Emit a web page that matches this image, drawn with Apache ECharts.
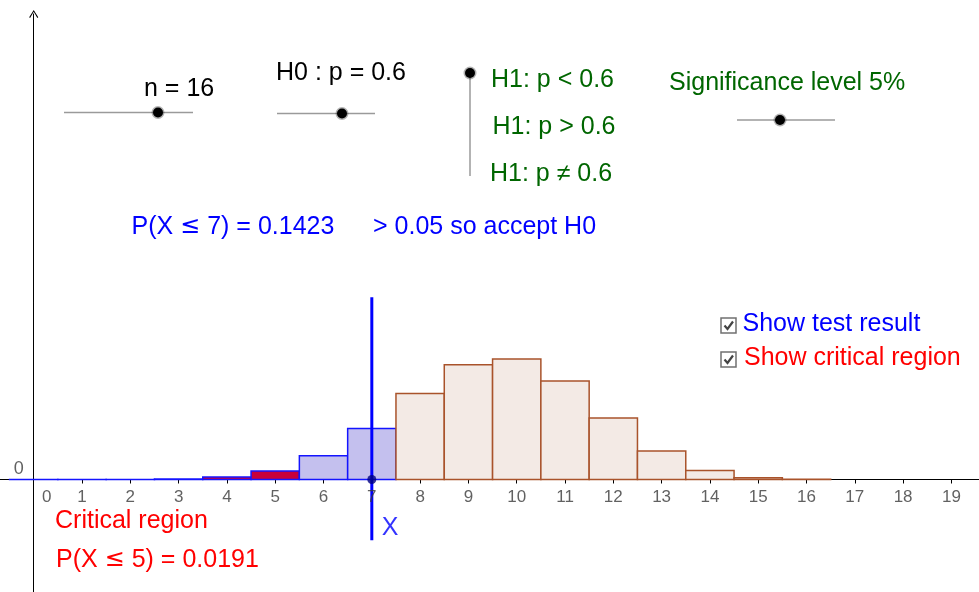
<!DOCTYPE html>
<html><head><meta charset="utf-8">
<script src="https://cdn.jsdelivr.net/npm/echarts@6/dist/echarts.min.js"></script>
<style>html,body{margin:0;padding:0;background:#fff}#c{width:979px;height:592px}</style>
</head><body><div id="c"></div>
<script>
// ---- data ----
const outcomes = [0, 1, 2, 3, 4, 5, 6, 7, 8, 9, 10, 11, 12, 13, 14, 15, 16];
const probabilities = [0.0000, 0.0000, 0.0001, 0.0008, 0.0040, 0.0142, 0.0392, 0.0840, 0.1417, 0.1889, 0.1983, 0.1623, 0.1014, 0.0468, 0.0150, 0.0030, 0.0003];
const tickValues = [1, 2, 3, 4, 5, 6, 7, 8, 9, 10, 11, 12, 13, 14, 15, 16, 17, 18, 19];
const tickLabels = [0, 1, 2, 3, 4, 5, 6, 7, 8, 9, 10, 11, 12, 13, 14, 15, 16, 17, 18, 19];
const yTickLabels = [0];
const criticalMax = 5;
const observedX = 7;
const testLine = [[7, 0.300], [7, -0.100]];
const observedPoint = [[7, 0]];
const texts = {
  n: 'n = 16',
  h0: 'H0 : p = 0.6',
  h1a: 'H1: p < 0.6',
  h1b: 'H1: p > 0.6',
  h1c: 'H1: p \u2260 0.6',
  sig: 'Significance level 5%',
  pObs: ['P(X ', '\u2264', ' 7) = 0.1423'],
  decision: '> 0.05 so accept H0',
  cb1: 'Show test result',
  cb2: 'Show critical region',
  crit: 'Critical region',
  pCrit: ['P(X ', '\u2264', ' 5) = 0.0191'],
  xName: 'X'
};

const FONT = '"Liberation Sans", Arial, sans-serif';
const SYM_FONT = '"DejaVu Sans", "Liberation Sans", sans-serif';
const GREEN = '#006600', BLUE = '#0000FF', RED = '#FF0000';
const LABEL_GREY = '#3a3a3a';
const chart = echarts.init(document.getElementById('c'), null, {renderer: 'canvas'});

function renderBar(params, api) {
  const k = api.value(0), p = api.value(1);
  const tl = api.coord([k - 0.5, p]);
  const br = api.coord([k + 0.5, 0]);
  let fill, stroke;
  if (k <= criticalMax) { fill = '#C8003C'; stroke = '#1414FF'; }
  else if (k <= observedX) { fill = '#C4C0EE'; stroke = '#1414FF'; }
  else { fill = '#F3EAE5'; stroke = '#A9532B'; }
  return {
    type: 'rect',
    shape: {x: tl[0], y: tl[1], width: br[0] - tl[0], height: Math.max(br[1] - tl[1], 0.01)},
    style: {fill: fill, stroke: stroke, lineWidth: 1.5}
  };
}

function txt(x, y, s, color, size) {
  return {type: 'text', x: x, y: y, z: 50,
    style: {text: s, fill: color, font: (size || 25) + 'px ' + FONT, textAlign: 'left', textVerticalAlign: 'middle'}};
}
function symTxt(x, y, parts, color) {
  return {type: 'text', x: x, y: y, z: 50,
    style: {
      text: '{a|' + parts[0] + '}{b|' + parts[1] + '}{a|' + parts[2] + '}',
      textAlign: 'left', textVerticalAlign: 'middle',
      rich: {
        a: {fill: color, fontSize: 25, fontFamily: FONT},
        b: {fill: color, fontSize: 24, fontFamily: SYM_FONT}
      }
    }};
}
function dot(x, y) {
  return [
    {type: 'circle', shape: {cx: x, cy: y, r: 6.5}, style: {fill: 'rgba(0,0,0,0.3)'}, z: 51},
    {type: 'circle', shape: {cx: x, cy: y, r: 5}, style: {fill: '#000'}, z: 52}
  ];
}
function hline(x1, x2, y) {
  return {type: 'line', shape: {x1: x1, y1: y, x2: x2, y2: y}, style: {stroke: '#9a9a9a', lineWidth: 1.5}, z: 50};
}
function checkbox(x, y) {
  return [
    {type: 'rect', shape: {x: x, y: y, width: 15, height: 15}, style: {fill: '#fff', stroke: '#707070', lineWidth: 1.5}, z: 50},
    {type: 'polyline', shape: {points: [[x + 3.5, y + 7.5], [x + 6.5, y + 11], [x + 12, y + 3.5]]}, style: {stroke: '#444', lineWidth: 2.2, fill: null}, z: 51}
  ];
}

const graphics = [].concat(
  [hline(64, 193, 112.5)], dot(158, 112.5),
  [hline(277, 375, 113.5)], dot(342, 113.5),
  [{type: 'line', shape: {x1: 470, y1: 73, x2: 470, y2: 176}, style: {stroke: '#9a9a9a', lineWidth: 1.5}, z: 50}], dot(470, 73),
  [hline(737, 835, 120)], dot(780, 120),
  checkbox(721, 318), checkbox(721, 352),
  [
    txt(144, 89.5, texts.n, '#000'),
    txt(276, 73.5, texts.h0, '#000'),
    txt(491, 80, texts.h1a, GREEN),
    txt(492.5, 127, texts.h1b, GREEN),
    txt(490, 174, texts.h1c, GREEN),
    txt(669, 83.5, texts.sig, GREEN),
    symTxt(131.5, 227, texts.pObs, BLUE),
    txt(373, 227, texts.decision, BLUE),
    txt(742.5, 324, texts.cb1, BLUE),
    txt(744, 358.5, texts.cb2, RED),
    txt(55, 521.5, texts.crit, RED),
    symTxt(56, 560, texts.pCrit, RED)
  ]
);

// axis tick labels drawn as labels of invisible points on the axes
const xLabelData = tickLabels.map(function (v) {
  const item = {value: [v, 0]};
  if (v === 0) item.label = {offset: [13, 0]};
  return item;
});
const yLabelData = yTickLabels.map(function (v) { return {value: [0, v]}; });

const option = {
  backgroundColor: '#fff',
  animation: false,
  grid: {left: 0, right: 0, top: 14, bottom: 0, containLabel: false, outerBoundsMode: 'none'},
  xAxis: {
    type: 'value', min: -0.698, max: 19.571,
    axisLine: {onZero: true, lineStyle: {color: '#000', width: 1}},
    axisTick: {show: true, customValues: tickValues, length: 4, lineStyle: {color: '#000', width: 1}},
    axisLabel: {show: false},
    splitLine: {show: false}
  },
  yAxis: {
    type: 'value', min: -0.1851, max: 0.7660,
    axisLine: {onZero: true, symbol: ['none', 'path://M0,8 L5,0 L10,8 L9,8.8 L5,1.8 L1,8.8 Z'], symbolSize: [10, 8], lineStyle: {color: '#000', width: 1}},
    axisTick: {show: false},
    axisLabel: {show: false},
    splitLine: {show: false}
  },
  series: [
    {type: 'custom', renderItem: renderBar, data: outcomes.map((k, i) => [k, probabilities[i]]), z: 3, silent: true},
    {type: 'line', data: testLine, symbol: 'none', lineStyle: {color: BLUE, width: 3}, z: 5, silent: true},
    {type: 'scatter', data: observedPoint, symbol: 'circle', symbolSize: 9, itemStyle: {color: '#000080'}, z: 6, silent: true},
    {type: 'scatter', data: [testLine[1]], symbolSize: 0, z: 6, silent: true,
      label: {show: true, formatter: texts.xName, position: 'right', distance: 10, offset: [0, -12], color: BLUE, fontSize: 25, fontFamily: FONT}},
    {type: 'scatter', data: xLabelData, symbolSize: 0, z: 6, silent: true,
      label: {show: true, position: 'bottom', distance: 9, color: LABEL_GREY, fontSize: 17, fontFamily: FONT,
        formatter: function (p) { return String(p.value[0]); }}},
    {type: 'scatter', data: yLabelData, symbolSize: 0, z: 6, silent: true,
      label: {show: true, position: 'left', distance: 10, offset: [0, -10], color: LABEL_GREY, fontSize: 18, fontFamily: FONT,
        formatter: function (p) { return String(p.value[1]); }}}
  ],
  graphic: graphics
};
chart.setOption(option);
</script>
</body></html>
